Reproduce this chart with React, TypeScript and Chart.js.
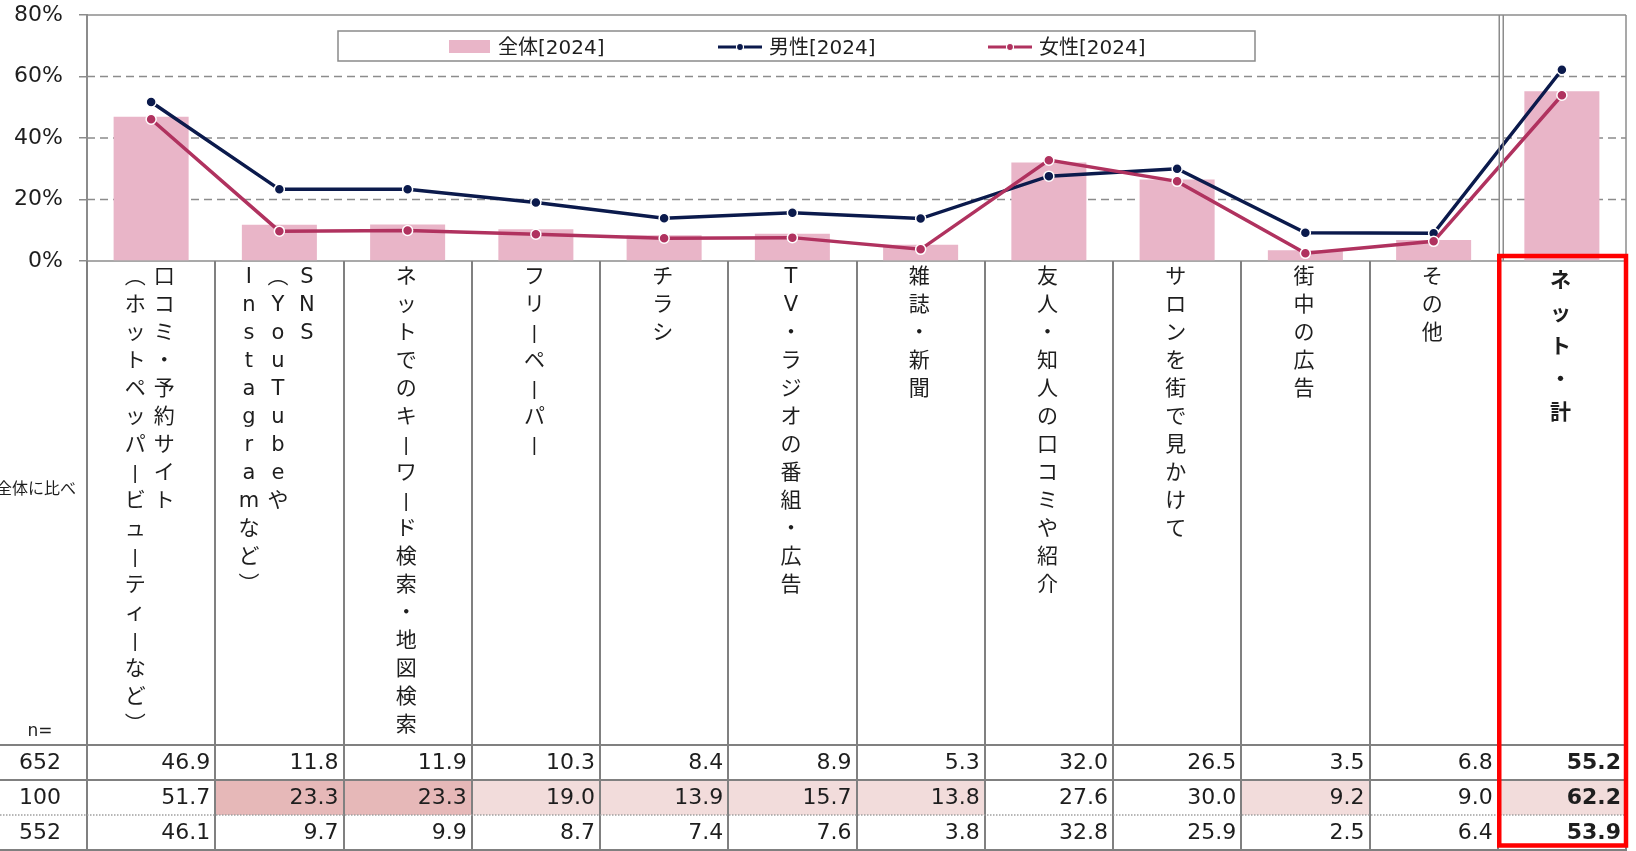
import React, { useEffect, useRef } from "react";
import { Chart, registerables } from "chart.js";

Chart.register(...registerables);

// ---------- data ----------
const categoryColumns: string[][] = [
  ["口コミ・予約サイト", "（ホットペッパービューティーなど）"],
  ["SNS", "（YouTubeや", "Instagramなど）"],
  ["ネットでのキーワード検索・地図検索"],
  ["フリーペーパー"],
  ["チラシ"],
  ["TV・ラジオの番組・広告"],
  ["雑誌・新聞"],
  ["友人・知人の口コミや紹介"],
  ["サロンを街で見かけて"],
  ["街中の広告"],
  ["その他"],
  ["ネット・計"],
];
const seriesLabels = ["全体[2024]", "男性[2024]", "女性[2024]"];
const totalValues = [46.9, 11.8, 11.9, 10.3, 8.4, 8.9, 5.3, 32.0, 26.5, 3.5, 6.8, 55.2];
const maleValues = [51.7, 23.3, 23.3, 19.0, 13.9, 15.7, 13.8, 27.6, 30.0, 9.2, 9.0, 62.2];
const femaleValues = [46.1, 9.7, 9.9, 8.7, 7.4, 7.6, 3.8, 32.8, 25.9, 2.5, 6.4, 53.9];
const sampleSizes = [652, 100, 552];
// significance shading for the male row: 0 none, 1 light, 2 strong
const maleHighlight = [0, 2, 2, 1, 1, 1, 1, 0, 0, 1, 0, 1];
const yTicks = [0, 20, 40, 60, 80];
const sideNote = "全体に比べ";
const nLabel = "n=";

// ---------- style ----------
const W = 1636;
const H = 851;
const FONT = '"DejaVu Sans", "Noto Sans CJK JP", sans-serif';
const BAR = "#E9B5C8";
const NAVY = "#0B1A4C";
const CRIMSON = "#B0325F";
const GRID = "#8C8C8C";
const TABLE_LINE = "#808080";
const TEXT = "#1E1E1E";
const VERT: Record<string, string> = { "（": "︵", "）": "︶" };

const gridPlugin = {
  id: "dashedGrid",
  beforeDatasetsDraw(chart: any) {
    const ctx: CanvasRenderingContext2D = chart.ctx;
    const { left, right } = chart.chartArea;
    const ys = chart.scales.y;
    ctx.save();
    ctx.strokeStyle = GRID;
    ctx.lineWidth = 1.5;
    yTicks.forEach((v) => {
      const y = ys.getPixelForValue(v);
      const solid = v === yTicks[0] || v === yTicks[yTicks.length - 1];
      ctx.setLineDash(solid ? [] : [8, 5]);
      ctx.beginPath();
      ctx.moveTo(left, y);
      ctx.lineTo(right, y);
      ctx.stroke();
    });
    ctx.restore();
  },
};

const overlayPlugin = {
  id: "overlay",
  afterDraw(chart: any) {
    const ctx: CanvasRenderingContext2D = chart.ctx;
    const { left, right, top, bottom } = chart.chartArea;
    const n = categoryColumns.length;
    const colW = (right - left) / n;
    const xs = chart.scales.x;
    const sepX = left + (n - 1) * colW;
    const rowH = 35;
    const tableTop = H - 1 - rowH * 3;
    const rows = [totalValues, maleValues, femaleValues];

    const line = (x1: number, y1: number, x2: number, y2: number) => {
      ctx.beginPath();
      ctx.moveTo(x1, y1);
      ctx.lineTo(x2, y2);
      ctx.stroke();
    };

    ctx.save();

    // plot right border + double separator
    ctx.strokeStyle = GRID;
    ctx.lineWidth = 1.5;
    line(right, top, right, bottom);
    line(sepX + 1.5, top, sepX + 1.5, bottom);
    line(sepX + 5.5, top, sepX + 5.5, bottom);

    // legend box
    ctx.lineWidth = 1.5;
    ctx.strokeStyle = "#8A8A8A";
    ctx.strokeRect(338, 31, 917, 30);
    const ly = 47;
    ctx.font = `20px ${FONT}`;
    ctx.textBaseline = "middle";
    ctx.textAlign = "left";
    ctx.fillStyle = BAR;
    ctx.fillRect(449, 40, 41, 13);
    ctx.fillStyle = TEXT;
    ctx.fillText(seriesLabels[0], 498, ly + 1.5);
    const legendLine = (x0: number, color: string, label: string) => {
      ctx.strokeStyle = color;
      ctx.lineWidth = 3;
      line(x0, ly, x0 + 44, ly);
      ctx.beginPath();
      ctx.arc(x0 + 22, ly, 3.5, 0, Math.PI * 2);
      ctx.fillStyle = color;
      ctx.fill();
      ctx.strokeStyle = "#fff";
      ctx.lineWidth = 1.2;
      ctx.stroke();
      ctx.fillStyle = TEXT;
      ctx.fillText(label, x0 + 51, ly + 1.5);
    };
    legendLine(718, NAVY, seriesLabels[1]);
    legendLine(988, CRIMSON, seriesLabels[2]);

    // table cell shading
    maleHighlight.forEach((h, k) => {
      if (!h) return;
      ctx.fillStyle = h === 2 ? "#E6B8B8" : "#F2DCDB";
      ctx.fillRect(left + k * colW, tableTop + rowH, colW, rowH);
    });

    // table lines
    ctx.strokeStyle = TABLE_LINE;
    ctx.lineWidth = 2;
    for (let k = 0; k <= n; k++) {
      const x = Math.round(left + k * colW);
      line(x, bottom, x, H);
    }
    line(0, tableTop, right, tableTop);
    line(0, tableTop + rowH, right, tableTop + rowH);
    line(0, tableTop + rowH * 3, right, tableTop + rowH * 3);
    ctx.lineWidth = 1.5;
    ctx.strokeStyle = "#A0A0A0";
    ctx.setLineDash([1.5, 1.5]);
    line(0, tableTop + rowH * 2, right, tableTop + rowH * 2);
    ctx.setLineDash([]);

    // table values
    ctx.fillStyle = TEXT;
    ctx.textBaseline = "middle";
    rows.forEach((vals, r) => {
      const cy = tableTop + rowH * r + rowH / 2 + 1;
      ctx.font = `22px ${FONT}`;
      ctx.textAlign = "center";
      ctx.fillText(String(sampleSizes[r]), 40, cy);
      ctx.textAlign = "right";
      vals.forEach((v, k) => {
        ctx.font = k === n - 1 ? `bold 22px ${FONT}` : `22px ${FONT}`;
        ctx.fillText(v.toFixed(1), left + (k + 1) * colW - 5, cy);
      });
    });

    // n= and side note
    ctx.textAlign = "center";
    ctx.font = `17px ${FONT}`;
    ctx.fillText(nLabel, 40, tableTop - 13);
    ctx.textAlign = "right";
    ctx.font = `16px ${FONT}`;
    ctx.fillText(sideNote, 76, 490);

    // vertical category labels
    ctx.textAlign = "center";
    ctx.textBaseline = "middle";
    categoryColumns.forEach((cols, k) => {
      const cx = xs.getPixelForValue(k) - 1.5;
      const isLast = k === n - 1;
      ctx.font = isLast ? `bold 21px ${FONT}` : `21px ${FONT}`;
      const step = isLast ? 33 : 28;
      const firstY = isLast ? bottom + 21 : bottom + 17;
      cols.forEach((col, j) => {
        const x = cx + ((cols.length - 1) / 2 - j) * 29;
        Array.from(col).forEach((ch, i) => {
          const y = firstY + i * step;
          if (ch === "ー") {
            ctx.save();
            ctx.strokeStyle = TEXT;
            ctx.lineWidth = 1.6;
            line(x, y - 9, x, y + 9);
            ctx.restore();
          } else {
            ctx.fillText(VERT[ch] ?? ch, x, y);
          }
        });
      });
    });

    // red highlight frame
    ctx.strokeStyle = "#FF0000";
    ctx.lineWidth = 4.5;
    ctx.strokeRect(sepX + 1.5, bottom - 5, right - sepX - 1.5, H - 5.5 - (bottom - 5));

    ctx.restore();
  },
};

export default function App() {
  const ref = useRef<HTMLCanvasElement | null>(null);

  useEffect(() => {
    if (!ref.current) return;
    const chart = new Chart(ref.current, {
      type: "bar",
      data: {
        labels: categoryColumns.map((c) => c.join("")),
        datasets: [
          {
            type: "bar",
            label: seriesLabels[0],
            data: totalValues,
            backgroundColor: BAR,
            barPercentage: 0.585,
            categoryPercentage: 1,
            order: 2,
          },
          {
            type: "line",
            label: seriesLabels[1],
            data: maleValues,
            borderColor: NAVY,
            backgroundColor: NAVY,
            borderWidth: 3.5,
            pointRadius: 5,
            pointBackgroundColor: NAVY,
            pointBorderColor: "#ffffff",
            pointBorderWidth: 1.5,
            order: 1,
          },
          {
            type: "line",
            label: seriesLabels[2],
            data: femaleValues,
            borderColor: CRIMSON,
            backgroundColor: CRIMSON,
            borderWidth: 3.5,
            pointRadius: 5,
            pointBackgroundColor: CRIMSON,
            pointBorderColor: "#ffffff",
            pointBorderWidth: 1.5,
            order: 0,
          },
        ] as any,
      },
      options: {
        responsive: false,
        animation: false,
        devicePixelRatio: 1,
        layout: { padding: { left: 0, top: 15, right: 10, bottom: 590 } },
        plugins: { legend: { display: false }, tooltip: { enabled: false } },
        scales: {
          x: { display: false },
          y: {
            min: 0,
            max: 80,
            afterBuildTicks: (s: any) => {
              s.ticks = yTicks.map((v) => ({ value: v }));
            },
            afterFit: (s: any) => {
              s.width = 87;
              s.paddingTop = 0;
              s.paddingBottom = 0;
            },
            ticks: {
              padding: 16,
              color: TEXT,
              font: { family: FONT, size: 22 },
              callback: (v: any) => `${v}%`,
            },
            grid: {
              color: GRID,
              lineWidth: 1.5,
              drawOnChartArea: false,
              drawTicks: true,
              tickLength: 8,
              tickColor: GRID,
              tickWidth: 1.5,
            },
            border: { display: true, color: GRID, width: 2 },
          },
        },
      } as any,
      plugins: [gridPlugin, overlayPlugin],
    });
    return () => chart.destroy();
  }, []);

  return (
    <div style={{ position: "absolute", left: 0, top: 0, width: W, height: H, background: "#fff" }}>
      <canvas ref={ref} width={W} height={H} style={{ display: "block" }} />
    </div>
  );
}
